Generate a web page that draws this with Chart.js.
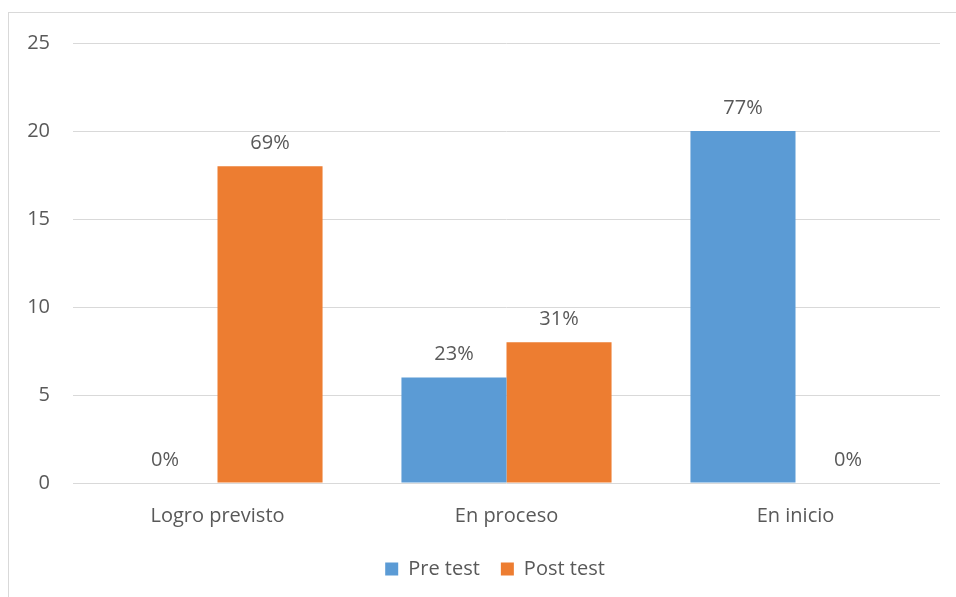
<!DOCTYPE html>
<html lang="es">
<head>
    <meta charset="UTF-8">
    <title>Pre test / Post test</title>
    <script src="https://cdn.jsdelivr.net/npm/chart.js"></script>
    <style>
        html, body {
            margin: 0;
            padding: 0;
            background: #ffffff;
            overflow: hidden;
        }
        .frame {
            position: absolute;
            left: 8px;
            top: 12px;
            width: 1000px;
            height: 700px;
            border: 1px solid #d9d9d9;
        }
        .chart-box {
            position: absolute;
            left: 0;
            top: 0;
            width: 956px;
            height: 589px;
        }
    </style>
</head>
<body>
    <div class="frame"></div>
    <div class="chart-box">
        <canvas id="chart"></canvas>
    </div>

    <script>
        const categories = ['Logro previsto', 'En proceso', 'En inicio'];
        const preTest = [0, 6, 20];
        const postTest = [18, 8, 0];
        const preLabels = ['0%', '23%', '77%'];
        const postLabels = ['69%', '31%', '0%'];
        const yTicks = [0, 5, 10, 15, 20, 25];

        const FONT = '"Open Sans", "Noto Sans", sans-serif';
        const SIZE = 20;
        const TEXT = '#595959';

        // draws the percentage above each bar
        const barLabels = {
            id: 'barLabels',
            afterDatasetsDraw(chart) {
                const ctx = chart.ctx;
                ctx.save();
                ctx.font = SIZE + 'px ' + FONT;
                ctx.fillStyle = TEXT;
                ctx.textAlign = 'center';
                ctx.textBaseline = 'bottom';
                chart.data.datasets.forEach((ds, i) => {
                    const meta = chart.getDatasetMeta(i);
                    meta.data.forEach((bar, j) => {
                        ctx.fillText(ds.pctLabels[j], bar.x, bar.y - 13);
                    });
                });
                ctx.restore();
            }
        };

        // legend in the original is centred a bit right of the canvas centre
        const shiftLegend = {
            id: 'shiftLegend',
            afterLayout(chart) {
                if (chart.legend) {
                    chart.legend.left += 25;
                    chart.legend.right += 25;
                }
            }
        };

        new Chart(document.getElementById('chart'), {
            type: 'bar',
            data: {
                labels: categories,
                datasets: [
                    {
                        label: 'Pre test',
                        data: preTest,
                        pctLabels: preLabels,
                        backgroundColor: '#5b9bd5'
                    },
                    {
                        label: 'Post test',
                        data: postTest,
                        pctLabels: postLabels,
                        backgroundColor: '#ed7d31'
                    }
                ]
            },
            options: {
                responsive: true,
                maintainAspectRatio: false,
                animation: false,
                datasets: {
                    bar: {
                        categoryPercentage: 0.727,
                        barPercentage: 1.0
                    }
                },
                layout: {
                    padding: { top: 43, right: 16, bottom: 0, left: 0 }
                },
                plugins: {
                    tooltip: { enabled: false },
                    legend: {
                        position: 'bottom',
                        labels: {
                            boxWidth: 13,
                            boxHeight: 13,
                            padding: 21,
                            color: TEXT,
                            font: { family: FONT, size: SIZE }
                        }
                    }
                },
                scales: {
                    x: {
                        grid: { display: false },
                        border: { display: false },
                        ticks: {
                            color: TEXT,
                            padding: 13,
                            font: { family: FONT, size: SIZE }
                        },
                        afterFit(scale) { scale.height = 55; }
                    },
                    y: {
                        min: 0,
                        max: 25,
                        afterBuildTicks(scale) {
                            scale.ticks = yTicks.map(v => ({ value: v }));
                        },
                        grid: {
                            color: '#d9d9d9',
                            lineWidth: 1,
                            drawTicks: false
                        },
                        border: { display: false },
                        ticks: {
                            color: TEXT,
                            padding: 23,
                            font: { family: FONT, size: SIZE }
                        },
                        afterFit(scale) { scale.width = 73; }
                    }
                }
            },
            plugins: [barLabels, shiftLegend]
        });
    </script>
</body>
</html>
